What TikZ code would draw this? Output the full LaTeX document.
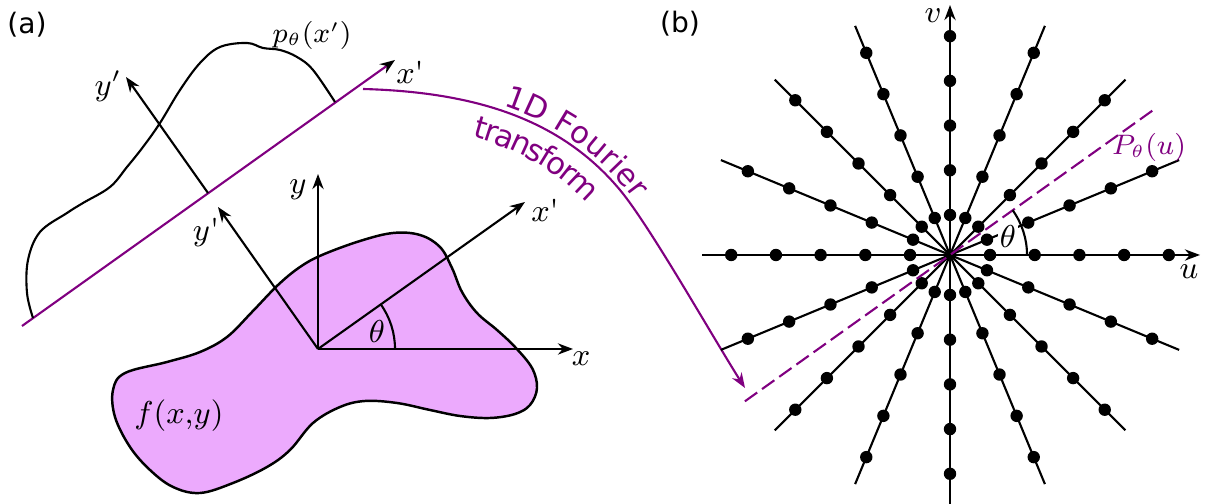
\documentclass[tikz,border=0pt]{standalone}
\usepackage{fontspec}
\newfontfamily\dejavu{DejaVu Sans}
\usetikzlibrary{arrows.meta,calc,decorations.text}
\definecolor{ppl}{RGB}{128,0,128}
\definecolor{blobc}{RGB}{236,170,253}
\begin{document}
\begin{tikzpicture}[x=0.01cm,y=0.01cm, line width=0.6pt,
  arr/.style={-{Stealth[length=4.3pt,width=3.2pt]}},
  mlab/.style={font=\fontsize{9}{11}\selectfont, inner sep=0pt},
  smlab/.style={font=\fontsize{7.7}{9}\selectfont, inner sep=0pt},
  slab/.style={font=\dejavu\fontsize{8}{10}\selectfont, inner sep=0pt},
  dashp/.style={ppl, dash pattern=on 4.3pt off 1.7pt},
]
\useasboundingbox (0,0) rectangle (1207,504);

% ---------------- panel (a) ----------------
\node[slab] (la) at (27,479) {(a)};

% object f(x,y)
\draw[fill=blobc, line width=0.7pt] plot[smooth cycle, tension=0.6] coordinates {
 (113,114) (125,131) (167,142) (200,152) (227,167) (252,192) (278,219) (300,237)
 (322,249) (360,263) (393,271) (420,269) (440,257) (452,236) (462,212) (477,191)
 (497,174) (515,157) (532,136) (537,116) (530,99) (515,90) (490,86) (460,88)
 (430,94) (397,101) (365,103) (340,97) (313,81) (290,54) (267,37) (233,21)
 (200,11) (173,17) (150,34) (130,57) (115,87)};
\node[mlab] (fxy) at (179,88) {$f(x{,}y)$};

% axes
\coordinate (O) at (318,155);
\coordinate (xt) at (573,155);
\coordinate (yt) at (318,330);
\coordinate (xpt) at (525,302);
\coordinate (ypt) at (218,297);
\draw[arr] (O) -- (xt);
\draw[arr] (O) -- (yt);
\draw[arr] (O) -- (xpt);
\draw[arr] (O) -- (ypt);
\node[mlab] (lx) at (581,145) {$x$};
\node[mlab] (ly) at (298,314) {$y$};
\node[mlab] (lxp) at (545,294) {$x$\textquotesingle};
\node[mlab] (lyp) at (206,272) {$y$\textquotesingle};
\draw (O) ++(77,0) arc[start angle=0, end angle=35.4, radius=77];
\node[mlab] (th1) at (377,172) {$\theta$};

% projection line
\coordinate (P1) at (22,178);
\coordinate (P2) at (395,444);
\draw[ppl, -{Stealth[length=4.3pt,width=3.2pt,black]}] (P1) -- (P2);
\node[mlab] (lxp2) at (410,432) {$x$\textquotesingle};
\coordinate (Q1) at (208,311);
\coordinate (Q2) at (126,427);
\draw[arr] (Q1) -- (Q2);
\node[mlab] (lyp2) at (108,418) {$y'$};

% projection profile
\draw[line width=0.6pt] plot[smooth, tension=0.6] coordinates {
 (33,186) (27,211) (28,244) (40,272) (67,291) (83,301) (110,317) (127,337)
 (143,357) (160,381) (180,414) (200,441) (220,457) (247,461) (263,456)
 (280,454) (297,447) (313,434) (335,402)};
\node[smlab] (lp) at (312,469) {$p_\theta(x')$};

% Fourier transform arrow
\coordinate (S) at (363,415);
\coordinate (M) at (620,314);
\coordinate (E) at (745,116);
\draw[ppl, arr] (S) .. controls (473,412) and (560,386) .. (M)
   .. controls (650,278) and (715,163) .. (E);
\path[decorate, decoration={text along path,
    text={|\dejavu\fontsize{8.7}{10}\selectfont|1D Fourier},
    text color=ppl, text align={left indent=40pt}, raise=1.4pt}]
  (S) .. controls (473,412) and (560,386) .. (M)
   .. controls (650,278) and (715,163) .. (E);
\path[decorate, decoration={text along path,
    text={|\dejavu\fontsize{8.7}{10}\selectfont|transform},
    text color=ppl, text align={left indent=34pt}, raise=-9.6pt}]
  (S) .. controls (473,412) and (560,386) .. (M)
   .. controls (650,278) and (715,163) .. (E);

% ---------------- panel (b) ----------------
\node[slab] (lb) at (680,480) {(b)};
\coordinate (C) at (950,249);
\foreach \a in {22.5,45,67.5,112.5,135,157.5,180,202.5,225,247.5,292.5,315,337.5}
  \draw (C) -- ++(\a:248);
\draw (C) -- ++(270:249);
\coordinate (ut) at (1200,249);
\coordinate (vt) at (950,499);
\draw[arr] (C) -- (ut);
\draw[arr] (C) -- (vt);
\foreach \a in {0,22.5,...,337.5}
  \foreach \r in {40,84.7,129.4,174.1,218.8}
    \fill (C) ++(\a:\r) circle[radius=6.2];
\node[mlab] (lu) at (1189,232) {$u$};
\node[mlab] (lv) at (933,488) {$v$};

% dashed projection slice
\coordinate (D1) at ($(C)+(215.5:252)$);
\coordinate (D2) at ($(C)+(35.5:252)$);
\draw[dashp] (D1) -- (D2);
\node[smlab, text=ppl] (lP) at (1149,357) {$P_\theta(u)$};
\draw (C) ++(77,0) arc[start angle=0, end angle=35.5, radius=77];
\node[mlab, fill=white, inner sep=0.6pt] (th2) at (1008,267) {$\theta$};
\end{tikzpicture}
\end{document}
